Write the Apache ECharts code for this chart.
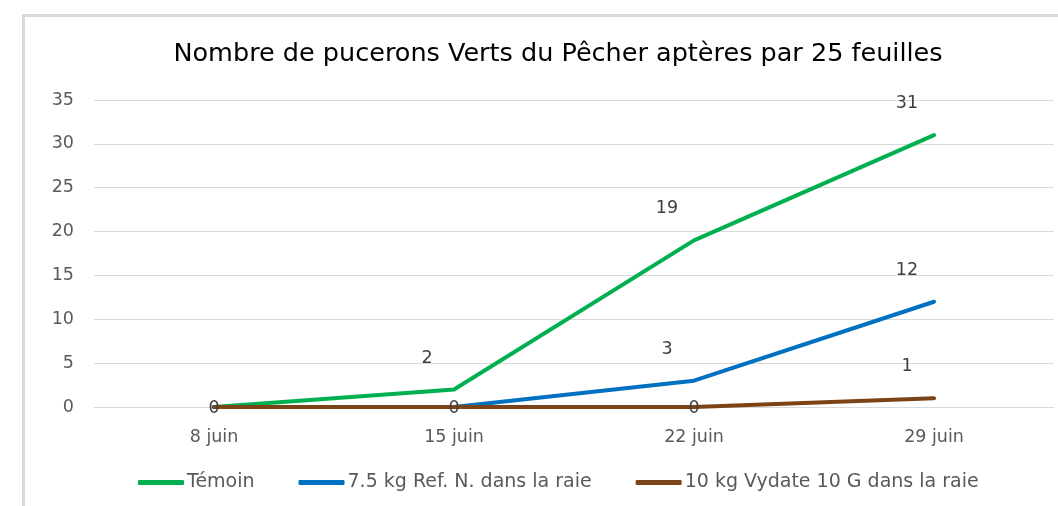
<!DOCTYPE html>
<html>
<head>
<meta charset="utf-8">
<script src="https://cdn.jsdelivr.net/npm/echarts@6/dist/echarts.min.js"></script>
<style>
  html, body { margin: 0; padding: 0; background: #fff; }
  #chart { width: 1058px; height: 506px; }
</style>
</head>
<body>
<div id="chart"></div>
<script>
var dates = ['8 juin', '15 juin', '22 juin', '29 juin'];
var temoin = [0, 2, 19, 31];
var refN = [0, 0, 3, 12];
var vydate = [0, 0, 0, 1];
var yTicks = { min: 0, max: 35, interval: 5 };

var FONT = 'DejaVu Sans';
var allSeries = [temoin, refN, vydate];

// zero values get their label on the point (only once per category),
// other values get it above-left
function withLabels(values, idx) {
	return values.map(function (v, i) {
		if (v !== 0) return v;
		var coveredLater = allSeries.slice(idx + 1).some(function (s) { return s[i] === 0; });
		return {
			value: v,
			label: { show: !coveredLater, position: 'inside', offset: [0, 1] }
		};
	});
}

function lineSeries(name, idx, color) {
	return {
		name: name,
		type: 'line',
		data: withLabels(allSeries[idx], idx),
		symbol: 'circle',
		symbolSize: 1,
		lineStyle: { color: color, width: 4, cap: 'round', join: 'round' },
		itemStyle: { color: color },
		label: {
			show: true,
			position: 'top',
			distance: 18,
			offset: [-27, -4],
			color: '#404040',
			fontFamily: FONT,
			fontSize: 17.5
		}
	};
}

var myChart = echarts.init(document.getElementById('chart'));
var option = {
	animation: false,
	backgroundColor: '#fff',
	graphic: [{
		type: 'rect',
		shape: { x: 23.5, y: 15.5, width: 1200, height: 700 },
		style: { fill: 'none', stroke: '#d9d9d9', lineWidth: 3 },
		silent: true,
		z: -1
	}],
	title: {
		text: 'Nombre de pucerons Verts du Pêcher aptères par 25 feuilles',
		left: 553,
		textAlign: 'center',
		top: 36,
		textStyle: { color: '#000', fontFamily: FONT, fontSize: 25.5, fontWeight: 'normal' }
	},
	legend: {
		bottom: 9,
		left: 133,
		itemWidth: 46,
		itemHeight: 5,
		itemGap: 44,
		icon: 'roundRect',
		textStyle: { color: '#595959', fontFamily: FONT, fontSize: 19, padding: [0, 0, 0, -2] },
		data: ['Témoin', '7.5 kg Ref. N. dans la raie', '10 kg Vydate 10 G dans la raie']
	},
	grid: { left: 94, right: 4, top: 100, bottom: 99 },
	xAxis: {
		type: 'category',
		data: dates,
		boundaryGap: true,
		axisLine: { lineStyle: { color: '#d9d9d9', width: 1 } },
		axisTick: { show: false },
		axisLabel: { color: '#595959', fontFamily: FONT, fontSize: 17.5, margin: 21 }
	},
	yAxis: {
		type: 'value',
		min: yTicks.min,
		max: yTicks.max,
		interval: yTicks.interval,
		axisLine: { show: false },
		axisTick: { show: false },
		splitLine: { lineStyle: { color: '#d9d9d9', width: 1 } },
		axisLabel: { color: '#595959', fontFamily: FONT, fontSize: 17.5, margin: 20 }
	},
	series: [
		lineSeries('Témoin', 0, '#00b050'),
		lineSeries('7.5 kg Ref. N. dans la raie', 1, '#0070c0'),
		lineSeries('10 kg Vydate 10 G dans la raie', 2, '#7b4316')
	]
};
myChart.setOption(option);
</script>
</body>
</html>
